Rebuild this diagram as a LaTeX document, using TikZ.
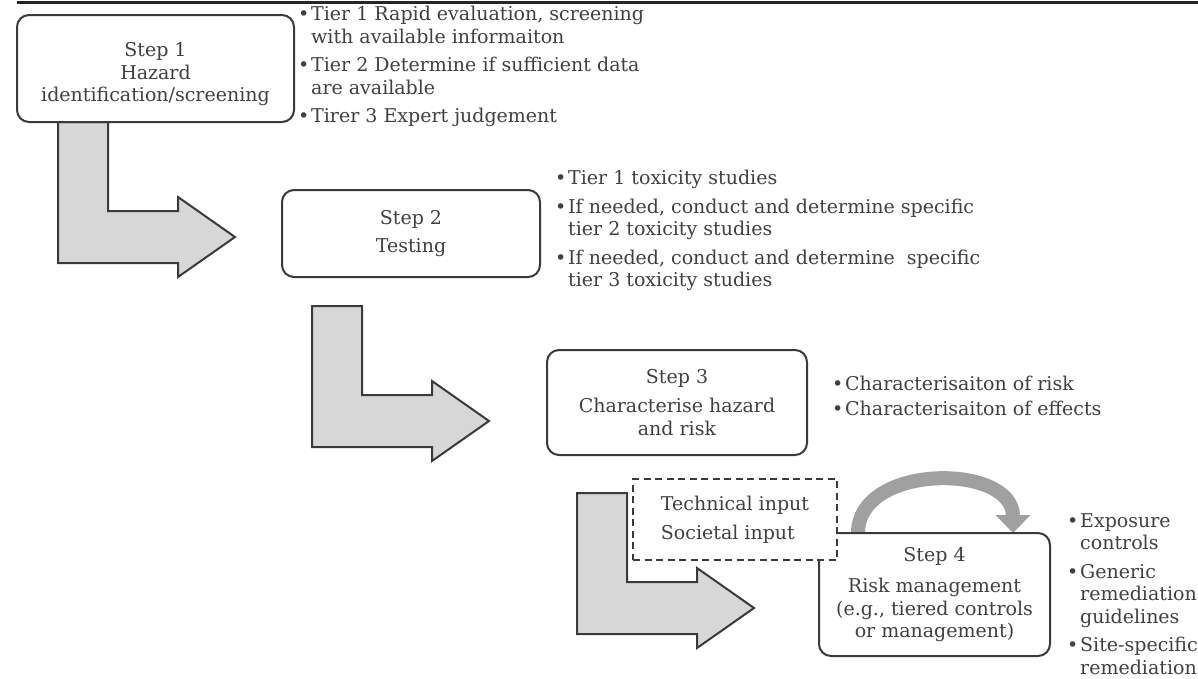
\documentclass[tikz,border=0pt]{standalone}
\usepackage{fontspec}
\setmainfont{DejaVu Serif}
\usepackage{tikz}
\usetikzlibrary{arrows.meta}
\definecolor{ink}{HTML}{404040}
\definecolor{frame}{HTML}{3A3A3A}
\definecolor{bendfill}{HTML}{D7D7D7}
\definecolor{loopgrey}{HTML}{A0A0A0}
\newcommand{\bul}{\makebox[13pt][l]{\textbullet}}
\newcommand{\hang}{\hspace*{13pt}}

\begin{document}
\begin{tikzpicture}[x=1pt, y=-1pt, font=\fontsize{19}{22.5}\selectfont, text=ink,
  stepbox/.style={draw=frame, line width=2pt, rounded corners=12pt, fill=white, align=center, inner sep=0pt},
  notes/.style={anchor=north west, align=left, inner sep=0pt},
  inputbox/.style={draw=frame, line width=1.6pt, dash pattern=on 7pt off 4.5pt, fill=white, align=left, inner sep=0pt},
  bendarrow/.style={draw=frame, line width=2pt, fill=bendfill, line join=miter},
  feedback/.style={draw=loopgrey, line width=14pt, -{Triangle[length=18pt, width=34pt]}}]

  \useasboundingbox (0,0) rectangle (1198,678);

  % Rule along the top
  \draw[line width=3pt, black!85] (17,2) -- (1198,2);

  % Bent block arrows (top-left corner of each)
  \foreach \ax/\ay in {58/122, 312/306, 577/493} {
    \draw[bendarrow] (\ax,\ay) -- ++(50,0) -- ++(0,89) -- ++(70,0) -- ++(0,-14)
      -- ++(57,40) -- ++(-57,40) -- ++(0,-14) -- ++(-120,0) -- cycle;
  }

  % Feedback loop above step 4
  \coordinate (loopfrom) at (858,533);
  \coordinate (loopto) at (1013,533);
  \draw[feedback] (loopfrom) .. controls (858,463) and (1013,463) .. (loopto);

  % Step boxes
  \node[stepbox, minimum width=277pt, minimum height=107pt] (step1) at (155.5,68.5) {\rule{0pt}{26pt}Step 1\\Hazard\\identification/screening};
  \node[stepbox, minimum width=258pt, minimum height=87pt] (step2) at (411,233.5) {Step 2\\[6pt]Testing};
  \node[stepbox, minimum width=260pt, minimum height=105pt] (step3) at (677,402.5) {Step 3\\[7pt]Characterise hazard\\and risk};
  \node[stepbox, minimum width=231pt, minimum height=123pt] (step4) at (934.5,594.5) {Step 4\\[9pt]Risk management\\(e.g., tiered controls\\or management)};

  % Inputs box, partly over step 4
  \node[inputbox, minimum width=204pt, minimum height=81pt] (inputs) at (735,519.5) {Technical input\\[6pt]Societal input};

  % Bullet lists
  \node[notes] (notes1) at (298,6) {\bul Tier 1 Rapid evaluation, screening\\
    \hang with available informaiton\\[6pt]
    \bul Tier 2 Determine if sufficient data\\
    \hang are available\\[6pt]
    \bul Tirer 3 Expert judgement};
  \node[notes] (notes2) at (555,170) {\bul Tier 1 toxicity studies\\[6pt]
    \bul If needed, conduct and determine specific\\
    \hang tier 2 toxicity studies\\[6pt]
    \bul If needed, conduct and determine\ \ specific\\
    \hang tier 3 toxicity studies};
  \node[notes] (notes3) at (832,376) {\bul Characterisaiton of risk\\[2pt]
    \bul Characterisaiton of effects};
  \node[notes] (notes4) at (1067,513) {\bul Exposure\\
    \hang controls\\[6pt]
    \bul Generic\\
    \hang remediation\\
    \hang guidelines\\[6pt]
    \bul Site-specific\\
    \hang remediation};
\end{tikzpicture}
\end{document}
